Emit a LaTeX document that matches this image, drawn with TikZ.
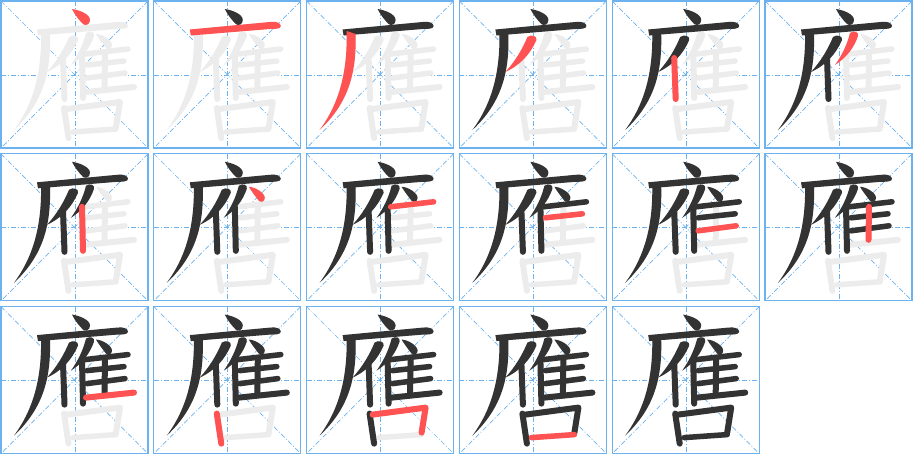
\documentclass[tikz,border=0pt]{standalone}
\usepackage{tikz}

\definecolor{gridblue}{RGB}{108,178,238}
\definecolor{inkdark}{RGB}{51,51,51}
\definecolor{inkred}{RGB}{255,82,82}
\definecolor{inkghost}{RGB}{236,236,236}

\tikzset{
  cellframe/.style={draw=gridblue, line width=1.2pt},
  guideline/.style={draw=gridblue, line width=0.7pt, dash pattern=on 5pt off 2pt on 1pt off 2pt},
  brush/.style={line width=6pt, line cap=round, line join=round},
}

% one stroke of the character, in cell coordinates (0..147)
\newcommand\hanstroke[1]{%
  \ifcase#1\or
    \fill (71,8) .. controls (78,9) and (89,13) .. (89,19) .. controls (89,24) and (84,25) .. (82,23) .. controls (78,19) and (74,14) .. cycle;
  \or
    \fill (36,28.5) -- (116,21) .. controls (122,20) and (127,22) .. (127,25) .. controls (127,28) and (121,28) .. (116,28) -- (37,34.5) -- cycle;
  \or
    \fill (40,30) -- (49,33) .. controls (50,70) and (43,101) .. (13,129) .. controls (33,102) and (41,70) .. cycle;
  \or
    \fill (68,36) .. controls (72,33) and (78,35) .. (77,39) .. controls (71,53) and (61,64) .. (46,71) .. controls (56,60) and (63,48) .. cycle;
  \or
    \draw[brush] (62,57) -- (63.5,98);
  \or
    \fill (85,32) .. controls (89,29) and (94,31) .. (93,35) .. controls (89,47) and (81,57) .. (70,64) .. controls (77,54) and (82,44) .. cycle;
  \or
    \draw[brush] (81,53) -- (82,97);
  \or
    \fill (95,33) .. controls (101,33) and (111,39) .. (111,44) .. controls (111,48) and (107,49) .. (105,47) .. controls (102,43) and (98,38) .. cycle;
  \or
    \draw[brush, line width=5.5pt] (84,53) -- (127,48);
  \or
    \draw[brush, line width=5.5pt] (86,64) -- (123,60);
  \or
    \draw[brush, line width=5.5pt] (86,77) -- (124,72);
  \or
    \draw[brush] (104,53) -- (103.5,86);
  \or
    \draw[brush] (85,91) -- (133,86);
  \or
    \draw[brush] (63,107) -- (67.5,137);
  \or
    \draw[brush] (66,108) -- (119,101) -- (115,126);
  \or
    \draw[brush, line width=5.5pt] (72,131) -- (115,128);
  \fi}

\begin{document}
\begin{tikzpicture}[x=1pt, y=-1pt]
\useasboundingbox (0,0) rectangle (915,456);

\foreach \k in {1,...,17}{
  \pgfmathtruncatemacro\col{mod(\k-1,6)}
  \pgfmathtruncatemacro\row{(\k-1)/6}
  \begin{scope}[shift={(1+152.8*\col,1+152.8*\row)}]
    % guide lines and frame
    \draw[guideline] (0,74) -- (147,74) (74,0) -- (74,147);
    \draw[guideline] (0,0) -- (147,147) (147,0) -- (0,147);
    \draw[cellframe] (0,0) rectangle (147,147);
    % ghost of the whole character
    \begin{scope}[inkghost]
      \foreach \s in {1,...,16}{\hanstroke{\s}}
    \end{scope}
    % strokes written so far, current one in red
    \foreach \s in {1,...,16}{
      \ifnum\s<\k \begin{scope}[inkdark]\hanstroke{\s}\end{scope}\fi
      \ifnum\s=\k \begin{scope}[inkred]\hanstroke{\s}\end{scope}\fi
    }
  \end{scope}
}
\end{tikzpicture}
\end{document}
